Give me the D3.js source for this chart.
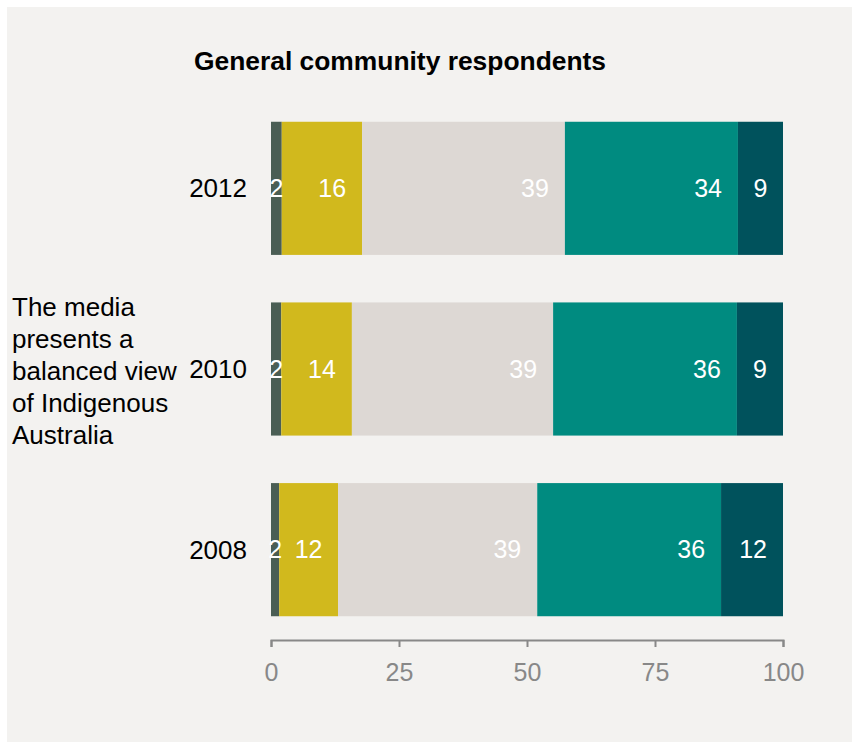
<!DOCTYPE html>
<html>
<head>
<meta charset="utf-8">
<script src="https://cdn.jsdelivr.net/npm/d3@7/dist/d3.min.js"></script>
<style>
  html, body { margin: 0; padding: 0; background: #ffffff; }
  svg { display: block; }
  text { font-family: "Liberation Sans", Arial, sans-serif; }
</style>
</head>
<body>
<script>
const years = ["2012", "2010", "2008"];
const seriesNames = ["Strongly disagree", "Disagree", "Neither", "Agree", "Strongly agree"];
const colors = ["#4a5e54", "#d1b91d", "#ddd8d4", "#008b80", "#00525c"];
// segment widths (percent)
const s2012 = [2.1, 15.7, 39.6, 33.8, 8.8];
const s2010 = [2.0, 13.8, 39.3, 35.9, 9.0];
const s2008 = [1.6, 11.5, 38.9, 35.9, 12.1];
// printed labels
const l2012 = [2, 16, 39, 34, 9];
const l2010 = [2, 14, 39, 36, 9];
const l2008 = [2, 12, 39, 36, 12];
const xTicks = [0, 25, 50, 75, 100];
const title = "General community respondents";
const groupLabel = ["The media", "presents a", "balanced view", "of Indigenous", "Australia"];

const rows = [
  { year: "2012", vals: s2012, labels: l2012 },
  { year: "2010", vals: s2010, labels: l2010 },
  { year: "2008", vals: s2008, labels: l2008 }
];

const W = 852, H = 742;
const svg = d3.select("body").append("svg").attr("width", W).attr("height", H);

svg.append("rect").attr("x", 7).attr("y", 7).attr("width", W - 7).attr("height", H - 7).attr("fill", "#f3f2f0");

const x = d3.scaleLinear().domain([0, 100]).range([271, 783]);
const y = d3.scaleBand().domain(years).range([98, 640]).paddingInner(0.263).paddingOuter(0.1315);

svg.append("text").attr("x", 400).attr("y", 70).attr("text-anchor", "middle")
  .attr("font-size", 26.4).attr("font-weight", "bold").attr("fill", "#000").text(title);

rows.forEach(r => {
  let acc = 0;
  const segs = r.vals.map((v, i) => { const s = { x0: acc, x1: acc + v, label: r.labels[i], i }; acc += v; return s; });
  const g = svg.append("g");
  g.selectAll("rect").data(segs).join("rect")
    .attr("x", d => x(d.x0)).attr("width", d => x(d.x1) - x(d.x0))
    .attr("y", y(r.year)).attr("height", y.bandwidth())
    .attr("fill", d => colors[d.i]);
  g.selectAll("text.lab").data(segs).join("text").attr("class", "lab")
    .attr("y", y(r.year) + y.bandwidth() / 2).attr("dy", "0.35em")
    .attr("font-size", 25).attr("fill", "#ffffff").attr("text-anchor", "end")
    .text(d => d.label)
    .each(function(d) {
      const w = this.getComputedTextLength();
      const c = (x(d.x0) + x(d.x1)) / 2;
      d3.select(this).attr("x", Math.max(c + w / 2, x(d.x1) - 16));
    });
  svg.append("text").attr("x", 247).attr("y", y(r.year) + y.bandwidth() / 2).attr("dy", "0.35em")
    .attr("text-anchor", "end").attr("font-size", 26).attr("fill", "#000").text(r.year);
});

const gl = svg.append("text").attr("x", 12).attr("font-size", 26).attr("fill", "#000");
const cy = y("2010") + y.bandwidth() / 2 + 2;
groupLabel.forEach((t, i) => {
  gl.append("tspan").attr("x", 12).attr("y", cy + (i - 2) * 32).attr("dy", "0.35em").text(t);
});

const axis = d3.axisBottom(x).tickValues(xTicks).tickSize(7).tickSizeOuter(7).tickPadding(16);
const ga = svg.append("g").attr("transform", "translate(0,640)").call(axis);
ga.select(".domain").attr("stroke", "#888").attr("stroke-width", 2);
ga.selectAll(".tick line").attr("stroke", "#888").attr("stroke-width", 2);
ga.selectAll(".tick text").attr("fill", "#888").attr("font-size", 25)
  .attr("font-family", "'Liberation Sans', Arial, sans-serif");
</script>
</body>
</html>
